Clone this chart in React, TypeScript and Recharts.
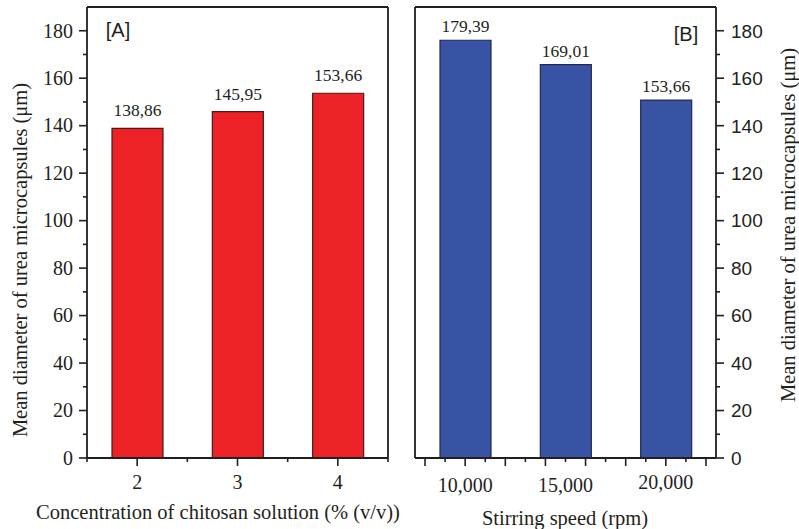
import React from 'react';
import { BarChart, Bar, XAxis, YAxis, ReferenceLine, LabelList } from 'recharts';

// ---------- data ----------
const concCategories = [2, 3, 4];
const concTickLabels = ['2', '3', '4'];
const concValues = [138.86, 145.95, 153.66];
const concLabels = ['138,86', '145,95', '153,66'];

const speedCategories = [10000, 15000, 20000];
const speedTickLabels = ['10,000', '15,000', '20,000'];
const speedValues = [176.0, 165.7, 150.8];
const speedLabels = ['179,39', '169,01', '153,66'];

const yTicks = [0, 10, 20, 30, 40, 50, 60, 70, 80, 90, 100, 110, 120, 130, 140, 150, 160, 170, 180];
const yMajorTicks = [0, 20, 40, 60, 80, 100, 120, 140, 160, 180];

const concAxisTicks = [1.5, 2, 2.5, 3, 3.5, 4, 4.5];
const concMajorTicks = [2, 3, 4];

const speedAxisTicks = [8000, 9000, 10000, 11000, 12000, 13000, 14000, 15000, 16000, 17000, 18000, 19000, 20000, 21000, 22000];
const speedMajorTicks = [8000, 10000, 12000, 14000, 16000, 18000, 20000, 22000];

const titleY = 'Mean diameter of urea microcapsules (\u03bcm)';
const titleXA = 'Concentration of chitosan solution (% (v/v))';
const titleXB = 'Stirring speed (rpm)';

const concData = concCategories.map((c, i) => ({ x: c, value: concValues[i], label: concLabels[i] }));
const speedData = speedCategories.map((c, i) => ({ x: c, value: speedValues[i], label: speedLabels[i] }));

// ---------- styles ----------
const INK = '#231f20';
const SERIF = '"Liberation Serif", "Times New Roman", serif';
const SANS = '"Liberation Sans", Arial, sans-serif';
const RED = '#ec2226';
const BLUE = '#3953a4';

const serifStyle = { fontFamily: SERIF };
const sansStyle = { fontFamily: SANS };

const XTick = (props: any) => {
  const { x, y, payload, majors, labelValues, labelTexts, dys } = props;
  const v = payload.value;
  const isMajor = majors.includes(v);
  const li = labelValues.indexOf(v);
  return (
    <g>
      <line x1={x} y1={y} x2={x} y2={y + (isMajor ? 8 : 4)} stroke={INK} strokeWidth={1.6} />
      {li >= 0 && (
        <text x={x} y={y + dys[li]} textAnchor="middle" style={serifStyle} fontSize={20} fill={INK}>
          {labelTexts[li]}
        </text>
      )}
    </g>
  );
};

const YTickLeft = (props: any) => {
  const { x, y, payload } = props;
  const v = payload.value;
  const isMajor = yMajorTicks.includes(v);
  return (
    <g>
      <line x1={x - (isMajor ? 8 : 4)} y1={y} x2={x} y2={y} stroke={INK} strokeWidth={1.6} />
      {isMajor && (
        <text x={x - 14} y={y} dy="0.34em" textAnchor="end" style={serifStyle} fontSize={20} fill={INK}>
          {v}
        </text>
      )}
    </g>
  );
};

const YTickRight = (props: any) => {
  const { x, y, payload } = props;
  const v = payload.value;
  const isMajor = yMajorTicks.includes(v);
  return (
    <g>
      <line x1={x} y1={y} x2={x + (isMajor ? 8 : 4)} y2={y} stroke={INK} strokeWidth={1.6} />
      {isMajor && (
        <text x={x + 15} y={y} dy="0.36em" textAnchor="start" style={sansStyle} fontSize={19} fill={INK}>
          {v}
        </text>
      )}
    </g>
  );
};

const Txt = ({ cx, cy, text, rotate = 0, size = 20.5, family = SERIF }: any) => (
  <div
    style={{
      position: 'absolute',
      left: cx,
      top: cy,
      transform: `translate(-50%, -50%) rotate(${rotate}deg)`,
      whiteSpace: 'nowrap',
      fontFamily: family,
      fontSize: size,
      lineHeight: 1,
      color: INK,
    }}
  >
    {text}
  </div>
);

export default function App() {
  return (
    <div style={{ position: 'fixed', left: 0, top: 0, width: 799, height: 529, background: '#fff', overflow: 'hidden' }}>
      {/* Panel A */}
      <div style={{ position: 'absolute', left: 0, top: 0 }}>
        <BarChart width={400} height={529} data={concData} margin={{ top: 7, right: 12, left: 0, bottom: 0 }}>
          <XAxis
            dataKey="x"
            type="number"
            domain={[1.5, 4.5]}
            allowDataOverflow
            ticks={concAxisTicks}
            interval={0}
            height={71}
            tickSize={0}
            tickMargin={0}
            tickLine={false}
            axisLine={{ stroke: INK, strokeWidth: 1.8 }}
            tick={(p: any) => (
              <XTick {...p} majors={concMajorTicks} labelValues={concCategories} labelTexts={concTickLabels} dys={[31, 31, 31]} />
            )}
          />
          <YAxis
            domain={[0, 190]}
            allowDataOverflow
            ticks={yTicks}
            interval={0}
            width={87}
            tickSize={0}
            tickMargin={0}
            tickLine={false}
            axisLine={{ stroke: INK, strokeWidth: 1.8 }}
            tick={(p: any) => <YTickLeft {...p} />}
          />
          <ReferenceLine y={190} stroke={INK} strokeWidth={1.8} />
          <ReferenceLine x={4.5} stroke={INK} strokeWidth={1.8} />
          <Bar dataKey="value" fill={RED} stroke="#4a1a1a" strokeWidth={1.2} barSize={51} isAnimationActive={false}>
            <LabelList dataKey="label" position="top" offset={12} style={serifStyle} fontSize={17.5} fill={INK} />
          </Bar>
        </BarChart>
      </div>

      {/* Panel B */}
      <div style={{ position: 'absolute', left: 400, top: 0 }}>
        <BarChart width={399} height={529} data={speedData} margin={{ top: 7, right: 0, left: 15, bottom: 0 }}>
          <XAxis
            dataKey="x"
            type="number"
            domain={[7500, 22500]}
            allowDataOverflow
            ticks={speedAxisTicks}
            interval={0}
            height={71}
            tickSize={0}
            tickMargin={0}
            tickLine={false}
            axisLine={{ stroke: INK, strokeWidth: 1.8 }}
            tick={(p: any) => (
              <XTick {...p} majors={speedMajorTicks} labelValues={speedCategories} labelTexts={speedTickLabels} dys={[34, 34, 31]} />
            )}
          />
          <YAxis
            orientation="right"
            domain={[0, 190]}
            allowDataOverflow
            ticks={yTicks}
            interval={0}
            width={83}
            tickSize={0}
            tickMargin={0}
            tickLine={false}
            axisLine={{ stroke: INK, strokeWidth: 1.8 }}
            tick={(p: any) => <YTickRight {...p} />}
          />
          <ReferenceLine y={190} stroke={INK} strokeWidth={1.8} />
          <ReferenceLine x={7500} stroke={INK} strokeWidth={1.8} />
          <Bar dataKey="value" fill={BLUE} stroke="#1e2a55" strokeWidth={1.2} barSize={51} isAnimationActive={false}>
            <LabelList dataKey="label" position="top" offset={8} style={serifStyle} fontSize={17.5} fill={INK} />
          </Bar>
        </BarChart>
      </div>

      <Txt cx={118} cy={30} text="[A]" size={20} family={SANS} />
      <Txt cx={686} cy={34} text="[B]" size={20} family={SANS} />
      <Txt cx={218} cy={512} text={titleXA} />
      <Txt cx={565} cy={518} text={titleXB} />
      <Txt cx={20} cy={260} text={titleY} rotate={-90} />
      <Txt cx={788} cy={225} text={titleY} rotate={-90} />
    </div>
  );
}
